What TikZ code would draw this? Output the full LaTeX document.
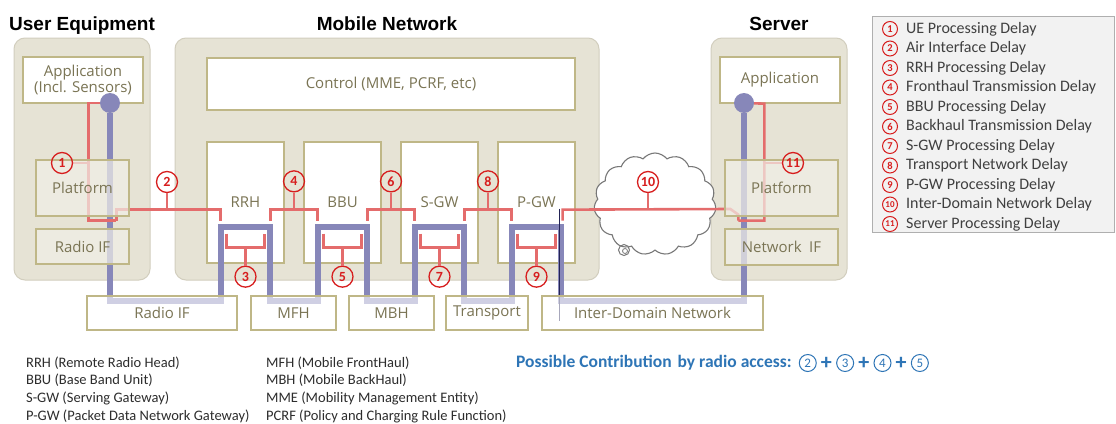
\documentclass[tikz,border=0pt]{standalone}
\usepackage{fontspec}
\setmainfont{Carlito}
\newfontfamily\boxfont{Open Sans}
\newfontfamily\headfont{Liberation Sans}
\usetikzlibrary{positioning,calc,shapes.symbols}

\pgfdeclarelayer{over}
\pgfdeclarelayer{front}
\pgfsetlayers{main,over,front}

\definecolor{shellfill}{RGB}{230,227,213}
\definecolor{shelledge}{RGB}{210,206,190}
\definecolor{khaki}{RGB}{191,183,135}
\definecolor{boxtext}{RGB}{122,116,84}
\definecolor{pale}{RGB}{241,239,231}
\definecolor{pathblue}{RGB}{135,135,185}
\definecolor{delayred}{RGB}{228,108,108}
\definecolor{numred}{RGB}{215,30,30}
\definecolor{navy}{RGB}{35,35,85}
\definecolor{cloudgray}{RGB}{120,120,120}
\definecolor{legfill}{RGB}{242,242,242}
\definecolor{legedge}{RGB}{175,175,175}
\definecolor{legtext}{RGB}{64,64,64}
\definecolor{abbrtext}{RGB}{45,45,45}
\definecolor{accblue}{RGB}{46,117,182}

\begin{document}
\begin{tikzpicture}[%
    x=1pt, y=-1pt,
    shell/.style={draw=shelledge, line width=1pt, fill=shellfill, rounded corners=11pt, minimum height=242},
    hdr/.style={font=\headfont\bfseries\fontsize{19}{19}\selectfont, inner sep=0pt, text height=14pt, text depth=4pt},
    blk/.style={draw=khaki, line width=1.3pt, fill=white, text=boxtext, font=\boxfont\fontsize{15}{16.5}\selectfont, align=center, inner sep=0pt},
    tier/.style={blk, fill=pale, fill opacity=0.7, text opacity=1},
    linkbox/.style={blk, fill opacity=0.6, text opacity=1, minimum height=34},
    datapath/.style={draw=pathblue, line width=6pt},
    tap/.style={circle, fill=pathblue, inner sep=0pt, minimum size=20},
    delayline/.style={draw=delayred, line width=2.6pt},
    dl/.style={circle, draw=numred, line width=1.3pt, text=numred, font=\bfseries\fontsize{14}{14}\selectfont, inner sep=0pt, minimum size=21},
    ln/.style={circle, draw=numred, line width=1pt, text=numred, font=\bfseries\fontsize{10.5}{10.5}\selectfont, inner sep=0pt, minimum size=15},
    lt/.style={inner sep=0pt, text=legtext, font=\fontsize{16}{16}\selectfont},
    abbr/.style={anchor=west, align=left, inner sep=0pt, text=abbrtext, font=\fontsize{14.5}{17.7}\selectfont},
    cn/.style={circle, draw=accblue, line width=1pt, text=accblue, font=\fontsize{13}{13}\selectfont, inner sep=0pt, minimum size=17},
    plus/.style={inner sep=0pt, text=accblue, font=\bfseries\fontsize{22}{22}\selectfont}
  ]
  \fill[white] (0,0) rectangle (1116,423);
  \useasboundingbox (0,0) rectangle (1116,423);

  % domains
  \node[shell, minimum width=136] (ue) at (82,159) {};
  \node[shell, minimum width=424] (mn) at (387,159) {};
  \node[shell, minimum width=136] (srv) at (779,159) {};
  \node[hdr, above=3pt of ue] (uetitle) {User Equipment};
  \node[hdr, above=3pt of mn] (mntitle) {Mobile Network};
  \node[hdr, above=3pt of srv] (srvtitle) {Server};

  % functions
  \node[blk, minimum width=120, minimum height=46] (ueapp) at (83,80) {Application\\(Incl. Sensors)};
  \node[blk, minimum width=368, minimum height=52] (control) at (391,84) {Control (MME, PCRF, etc)};
  \node[blk, minimum width=77, minimum height=121] (rrh) at (245.5,202.5) {RRH};
  \node[blk, minimum width=77, minimum height=121, right=18.7pt of rrh] (bbu) {BBU};
  \node[blk, minimum width=77, minimum height=121, right=18.7pt of bbu] (sgw) {S-GW};
  \node[blk, minimum width=77, minimum height=121, right=18.7pt of sgw] (pgw) {P-GW};
  \node[blk, minimum width=120, minimum height=46] (srvapp) at (780,80) {Application};

  \begin{pgfonlayer}{over}
    \node[tier, minimum width=93, minimum height=56] (ueplat) at (82.5,188) {Platform};
    \node[tier, minimum width=93, minimum height=35] (ueradio) at (82.5,246.5) {Radio IF};
    \node[tier, minimum width=113, minimum height=56] (srvplat) at (781.5,188) {Platform};
    \node[tier, minimum width=113, minimum height=36] (srvnet) at (781.5,247) {Network\enspace IF};

    \node[linkbox, minimum width=150] (radioif) at (162,313) {Radio IF};
    \node[linkbox, minimum width=85, right=12.7pt of radioif] (mfh) {MFH};
    \node[linkbox, minimum width=85, right=11.7pt of mfh] (mbh) {MBH};
    \node[linkbox, minimum width=82, right=10.7pt of mbh] (transport) {Transport};
    \node[linkbox, minimum width=221, right=12.7pt of transport] (interdomain) {Inter-Domain Network};
  \end{pgfonlayer}

  % internet cloud
  \node[cloud, cloud puffs=15, cloud puff arc=105, aspect=1.2, draw=cloudgray, fill=white, line width=1.1pt, minimum width=122, minimum height=102] (cloud) at (655,204) {};
  \node[circle, draw=cloudgray, line width=1pt, minimum size=11, inner sep=0pt] (bubble) at (624,250) {};
  \node[circle, draw=cloudgray, line width=0.8pt, minimum size=5, inner sep=0pt] at (625,251) {};

  % user plane path
  \node[tap] (uedot) at (110,103) {};
  \node[tap] (srvdot) at (744,103) {};
  \draw[datapath] (uedot) |- ($(rrh.south west)+(15,37)$)
    -- ($(rrh.south west)+(15,-37)$) -| ($(rrh.south east)+(-15,37)$)
    -| ($(bbu.south west)+(15,-37)$) -| ($(bbu.south east)+(-15,37)$)
    -| ($(sgw.south west)+(15,-37)$) -| ($(sgw.south east)+(-15,37)$)
    -| ($(pgw.south west)+(15,-37)$) -| ($(pgw.south east)+(-15,37)$)
    -| (srvdot);
  \draw[navy, line width=1.3pt] ($(pgw.south east)+(-16,-55)$) -- ($(pgw.south east)+(-16,57)$);

  % delays
  \draw[delayline] (uedot.west) -| ($(ueplat.south west)+(53,4)$) -- ++(28,0);
  \draw[delayline] ($(ueplat.south west)+(81,4)$) -- ++(0,-11) -| ($(rrh.south west)+(14,-43)$);
  \draw[delayline] ($(rrh.south east)+(-14,-43)$) -- ++(0,-11) -| ($(bbu.south west)+(14,-43)$);
  \draw[delayline] ($(bbu.south east)+(-14,-43)$) -- ++(0,-11) -| ($(sgw.south west)+(14,-43)$);
  \draw[delayline] ($(sgw.south east)+(-14,-43)$) -- ++(0,-11) -| ($(pgw.south west)+(14,-43)$);
  \draw[delayline] ($(pgw.south east)+(-13,-43)$) -- ++(0,-11) -- ($(srvplat.west)+(6,21)$)
    -- ($(srvplat.south west)+(14,-2)$) -- ($(srvplat.south west)+(14,4)$);
  \draw[delayline] ($(srvplat.south west)+(14,4)$) -| ($(srvapp.south west)+(45,0)$) -- (srvdot);

  \begin{pgfonlayer}{front}
    \node[dl] (l1) at (62,163) {1};
    \node[dl] (l11) at (793,163) {11};
  \end{pgfonlayer}
  \draw[delayline] (l1.east) -- ++(16,0);
  \draw[delayline] (l11.west) -- ++(-17,0);
  \node[dl] (l2) at (167,182) {2};
  \draw[delayline] (l2.south) -- ++(0,16);
  \node[dl] (l4) at ($(rrh.north east)!.5!(bbu.north west)+(0,40)$) {4};
  \draw[delayline] (l4.south) -- ++(0,16);
  \node[dl] (l6) at ($(bbu.north east)!.5!(sgw.north west)+(0,40)$) {6};
  \draw[delayline] (l6.south) -- ++(0,16);
  \node[dl] (l8) at ($(sgw.north east)!.5!(pgw.north west)+(0,40)$) {8};
  \draw[delayline] (l8.south) -- ++(0,16);
  \node[dl] (l10) at (648,182) {10};
  \draw[delayline] (l10.south) -- ++(0,16);

  \foreach \b/\n in {rrh/3,bbu/5,sgw/7,pgw/9}{
    \draw[delayline] ($(\b.south west)+(20,-30)$) -- ++(0,14) -| ($(\b.south east)+(-20,-30)$);
    \node[dl] (l\n) at ($(\b.south)+(0,13)$) {\n};
    \draw[delayline] (l\n.north) -- ++(0,-18);
  }

  % legend
  \node[draw=legedge, line width=1pt, fill=legfill, minimum width=242, minimum height=216, inner sep=0pt] (legend) at (993,124) {};
  \node[ln] (k1) at (890,29) {1};
  \node[ln, below=3.5pt of k1] (k2) {2};
  \node[ln, below=3.5pt of k2] (k3) {3};
  \node[ln, below=3.5pt of k3] (k4) {4};
  \node[ln, below=3.5pt of k4] (k5) {5};
  \node[ln, below=3.5pt of k5] (k6) {6};
  \node[ln, below=3.5pt of k6] (k7) {7};
  \node[ln, below=3.5pt of k7] (k8) {8};
  \node[ln, below=3.5pt of k8] (k9) {9};
  \node[ln, below=3.5pt of k9, font=\bfseries\fontsize{9}{9}\selectfont] (k10) {10};
  \node[ln, below=3.5pt of k10, font=\bfseries\fontsize{9}{9}\selectfont] (k11) {11};
  \node[lt, right=8pt of k1] (t1) {UE Processing Delay};
  \node[lt, right=8pt of k2] (t2) {Air Interface Delay};
  \node[lt, right=8pt of k3] (t3) {RRH Processing Delay};
  \node[lt, right=8pt of k4] (t4) {Fronthaul Transmission Delay};
  \node[lt, right=8pt of k5] (t5) {BBU Processing Delay};
  \node[lt, right=8pt of k6] (t6) {Backhaul Transmission Delay};
  \node[lt, right=8pt of k7] (t7) {S-GW Processing Delay};
  \node[lt, right=8pt of k8] (t8) {Transport Network Delay};
  \node[lt, right=8pt of k9] (t9) {P-GW Processing Delay};
  \node[lt, right=8pt of k10] (t10) {Inter-Domain Network Delay};
  \node[lt, right=8pt of k11] (t11) {Server Processing Delay};

  % abbreviations
  \node[abbr] (abbrl) at (26,389.5) {RRH (Remote Radio Head)\\BBU (Base Band Unit)\\S-GW (Serving Gateway)\\P-GW (Packet Data Network Gateway)};
  \node[abbr] (abbrr) at (266,389.5) {MFH (Mobile FrontHaul)\\MBH (Mobile BackHaul)\\MME (Mobility Management Entity)\\PCRF (Policy and Charging Rule Function)};

  % radio access share
  \node[anchor=west, inner sep=0pt, text=accblue, font=\bfseries\fontsize{17.5}{17.5}\selectfont] (share) at (516,363) {Possible Contribution\hspace{2pt} by radio access:};
  \node[cn, right=7pt of share] (s2) {2};
  \node[plus, right=4pt of s2] (p1) {+};
  \node[cn, right=4pt of p1] (s3) {3};
  \node[plus, right=4pt of s3] (p2) {+};
  \node[cn, right=4pt of p2] (s4) {4};
  \node[plus, right=4pt of s4] (p3) {+};
  \node[cn, right=4pt of p3] (s5) {5};

\end{tikzpicture}
\end{document}
